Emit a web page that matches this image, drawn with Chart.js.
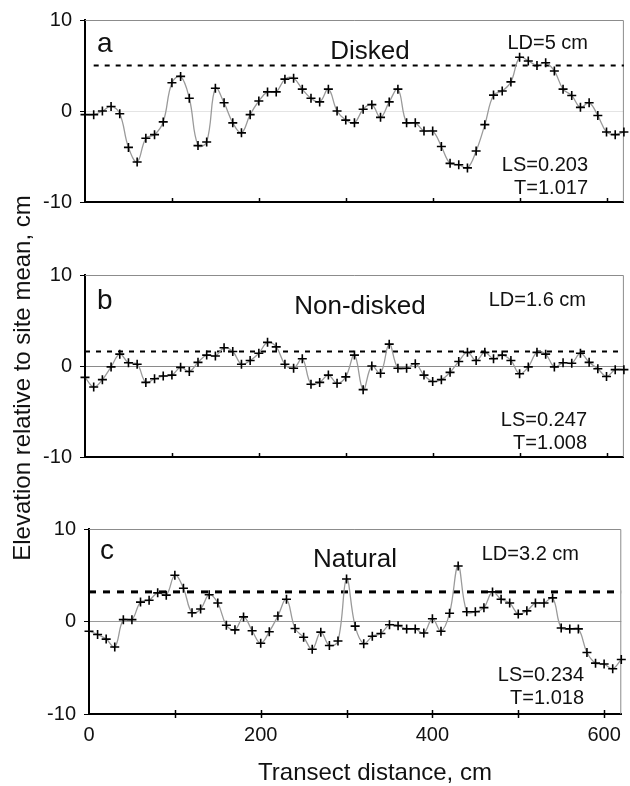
<!DOCTYPE html>
<html>
<head>
<meta charset="utf-8">
<script src="https://cdn.jsdelivr.net/npm/chart.js@4.4.0/dist/chart.umd.min.js"></script>
<style>
  body { margin: 0; background: #fff; }
  #wrap { position: relative; width: 630px; height: 786px; font-family: "Liberation Sans", Arial, sans-serif; color: #111; }
  #wrap canvas { position: absolute; left: 0; }
  .ytitle { position: absolute; left: -178px; top: 363px; width: 400px; height: 30px; line-height: 30px;
            text-align: center; font-size: 24px; transform: rotate(-90deg); white-space: nowrap; }
  .xtitle { position: absolute; left: 175px; top: 758px; width: 400px; height: 28px; line-height: 28px;
            text-align: center; font-size: 24px; white-space: nowrap; }
</style>
</head>
<body>
<div id="wrap">
  <canvas id="panelA" width="630" height="240" style="top:0px"></canvas>
  <canvas id="panelB" width="630" height="240" style="top:255px"></canvas>
  <canvas id="panelC" width="630" height="277" style="top:509px"></canvas>
  <div class="ytitle">Elevation relative to site mean, cm</div>
  <div class="xtitle">Transect distance, cm</div>
</div>
<script>
// transect positions, cm
var distance = [0, 10, 20, 30, 40, 50, 60, 70, 80, 90,
  100, 110, 120, 130, 140, 150, 160, 170, 180, 190,
  200, 210, 220, 230, 240, 250, 260, 270, 280, 290,
  300, 310, 320, 330, 340, 350, 360, 370, 380, 390,
  400, 410, 420, 430, 440, 450, 460, 470, 480, 490,
  500, 510, 520, 530, 540, 550, 560, 570, 580, 590,
  600, 610, 620];

// elevation relative to site mean, cm
var diskedElev = [-0.4, -0.4, 0.0, 0.5, -0.3, -4.0, -5.6, -3.0, -2.6, -1.2,
  3.1, 3.8, 1.4, -3.8, -3.4, 2.5, 0.9, -1.3, -2.4, -0.4,
  1.1, 2.1, 2.1, 3.5, 3.6, 2.4, 1.4, 1.0, 2.4, 0.0,
  -1.0, -1.3, 0.2, 0.7, -0.7, 1.0, 2.4, -1.3, -1.3, -2.2,
  -2.2, -3.9, -5.75, -5.9, -6.25, -4.4, -1.5, 1.75, 2.2, 3.2,
  5.9, 5.5, 5.0, 5.3, 4.4, 2.4, 1.7, 0.4, 0.9, -0.5,
  -2.3, -2.6, -2.3];

var nonDiskedElev = [-1.25, -2.3, -1.5, -0.1, 1.3, 0.35, 0.2, -1.8, -1.4, -1.1,
  -1.0, -0.15, -0.6, 0.4, 1.2, 1.1, 2.0, 1.6, 0.2, 0.6,
  1.4, 2.6, 2.1, 0.2, -0.25, 0.8, -2.0, -1.8, -1.0, -1.9,
  -1.2, 1.2, -2.6, 0.0, -0.8, 2.4, -0.25, -0.25, 0.25, -1.0,
  -1.7, -1.5, -0.7, 0.5, 1.5, 0.6, 1.5, 0.8, 1.2, 0.6,
  -0.85, -0.1, 1.5, 1.3, -0.1, 0.35, 0.3, 1.4, 0.4, -0.3,
  -1.15, -0.4, -0.4];

var naturalElev = [-1.05, -1.4, -1.9, -2.75, 0.2, 0.2, 2.1, 2.3, 3.1, 2.85,
  5.0, 3.6, 0.95, 1.35, 2.9, 2.0, -0.4, -0.9, 0.5, -1.0,
  -2.35, -1.1, 0.6, 2.4, -0.75, -1.7, -3.0, -1.15, -2.6, -2.1,
  4.6, -0.5, -2.4, -1.6, -1.3, -0.35, -0.45, -0.8, -0.8, -1.25,
  0.3, -1.05, 0.9, 6.0, 1.05, 1.05, 1.5, 3.2, 2.4, 2.0,
  0.8, 1.15, 2.0, 2.0, 2.55, -0.7, -0.8, -0.8, -3.35, -4.5,
  -4.6, -5.1, -4.1];

var panelLetters = ['a', 'b', 'c'];
var panelNames = ['Disked', 'Non-disked', 'Natural'];
var ldLevels = [5, 1.6, 3.2];
var lsValues = ['0.203', '0.247', '0.234'];
var tValues = ['1.017', '1.008', '1.018'];

var xTickMarks = [0, 100, 200, 300, 400, 500, 600];
var xTickLabels = [0, 200, 400, 600];
var yTickValues = [-10, 0, 10];
var xMax = 620;

var FONT = '"Liberation Sans", Arial, sans-serif';
Chart.defaults.font.family = FONT;
Chart.defaults.color = '#111';

// where each panel sits and how it looks
var panels = [
  { canvas: 'panelA', elev: diskedElev, yWidth: 85, padRight: 3, xHeight: 38, showX: false, tickMode: 'in',
    zeroColor: '#e4e4e4', dash: [5, 6], dashWidth: 2, ldStart: 10,
    pos: { letter: [12, 32], name: [285, 39], ld: [503, 29], ls: [503, 151], t: [503, 174] } },
  { canvas: 'panelB', elev: nonDiskedElev, yWidth: 85, padRight: 3, xHeight: 38, showX: false, tickMode: 'in',
    zeroColor: '#8a8a8a', dash: [5, 6], dashWidth: 2, ldStart: 0,
    pos: { letter: [12, 34], name: [275, 39], ld: [501, 31], ls: [502, 151], t: [502, 174] } },
  { canvas: 'panelC', elev: naturalElev, yWidth: 89, padRight: 5, xHeight: 72, showX: true, tickMode: 'cross',
    zeroColor: '#9a9a9a', dash: [7, 7], dashWidth: 3, ldStart: 0,
    pos: { letter: [11, 30], name: [266, 38], ld: [490, 31], ls: [495, 152], t: [495, 175] } }
];

// frame (top/right), inner x tick marks and the panel texts
var panelDeco = {
  id: 'panelDeco',
  beforeDatasetsDraw: function (chart) {
    var a = chart.chartArea, ctx = chart.ctx;
    ctx.save();
    ctx.strokeStyle = '#8c8c8c';
    ctx.lineWidth = 1;
    ctx.beginPath();
    ctx.moveTo(a.left, a.top + 0.5);
    ctx.lineTo(a.right - 0.5, a.top + 0.5);
    ctx.lineTo(a.right - 0.5, a.bottom);
    ctx.stroke();
    ctx.restore();
  },
  afterDraw: function (chart, args, o) {
    var a = chart.chartArea, ctx = chart.ctx, xs = chart.scales.x;
    ctx.save();
    ctx.strokeStyle = '#000';
    ctx.lineWidth = 1.5;
    xTickMarks.forEach(function (v) {
      if (v === 0) return;
      var px = Math.round(xs.getPixelForValue(v)) + 0.5;
      ctx.beginPath();
      if (o.tickMode === 'cross') {
        ctx.moveTo(px, a.bottom - 4);
        ctx.lineTo(px, a.bottom + 4);
      } else {
        ctx.moveTo(px, a.bottom - 4);
        ctx.lineTo(px, a.bottom);
      }
      ctx.stroke();
    });

    ctx.fillStyle = '#111';
    ctx.textBaseline = 'alphabetic';
    o.texts.forEach(function (t) {
      ctx.font = t.size + 'px ' + FONT;
      ctx.textAlign = t.align;
      ctx.fillText(t.text, a.left + t.at[0], a.top + t.at[1]);
    });
    ctx.restore();
  }
};

panels.forEach(function (p, i) {
  var pts = distance.map(function (d, k) { return { x: d, y: p.elev[k] }; });
  var ldLine = [{ x: p.ldStart, y: ldLevels[i] }, { x: xMax, y: ldLevels[i] }];

  var texts = [
    { text: panelLetters[i], at: p.pos.letter, size: 28, align: 'left' },
    { text: panelNames[i], at: p.pos.name, size: 26, align: 'center' },
    { text: 'LD=' + ldLevels[i] + ' cm', at: p.pos.ld, size: 20, align: 'right' },
    { text: 'LS=' + lsValues[i], at: p.pos.ls, size: 20, align: 'right' },
    { text: 'T=' + tValues[i], at: p.pos.t, size: 20, align: 'right' }
  ];

  new Chart(document.getElementById(p.canvas), {
    type: 'scatter',
    data: {
      datasets: [
        {
          data: pts,
          showLine: true,
          borderColor: '#9a9a9a',
          borderWidth: 1.3,
          tension: 0.4,
          pointStyle: 'cross',
          pointRadius: 4.5,
          pointBorderWidth: 1.6,
          pointBorderColor: '#000',
          pointBackgroundColor: '#000',
          clip: false
        },
        {
          data: ldLine,
          showLine: true,
          borderColor: '#000',
          borderWidth: p.dashWidth,
          borderDash: p.dash,
          pointRadius: 0
        }
      ]
    },
    options: {
      responsive: false,
      animation: false,
      events: [],
      layout: { padding: { top: 16, left: 0, right: p.padRight, bottom: 0 } },
      plugins: {
        legend: { display: false },
        tooltip: { enabled: false },
        panelDeco: { texts: texts, tickMode: p.tickMode }
      },
      scales: {
        x: {
          type: 'linear',
          min: 0,
          max: xMax,
          afterFit: function (s) { s.height = p.xHeight; },
          afterBuildTicks: function (s) { s.ticks = xTickLabels.map(function (v) { return { value: v }; }); },
          ticks: { display: p.showX, padding: 9, font: { size: 20 }, color: '#111' },
          grid: { display: false, drawTicks: false },
          border: { color: '#000', width: 2 }
        },
        y: {
          min: -10,
          max: 10,
          afterFit: function (s) { s.width = p.yWidth; },
          afterBuildTicks: function (s) { s.ticks = yTickValues.map(function (v) { return { value: v }; }); },
          ticks: { padding: 8, font: { size: 20 }, color: '#111' },
          grid: {
            color: function (c) { return c.tick && c.tick.value === 0 ? p.zeroColor : 'rgba(0,0,0,0)'; },
            tickColor: '#000',
            tickLength: 5,
            lineWidth: 1
          },
          border: { color: '#000', width: 2 }
        }
      }
    },
    plugins: [panelDeco]
  });
});
</script>
</body>
</html>
